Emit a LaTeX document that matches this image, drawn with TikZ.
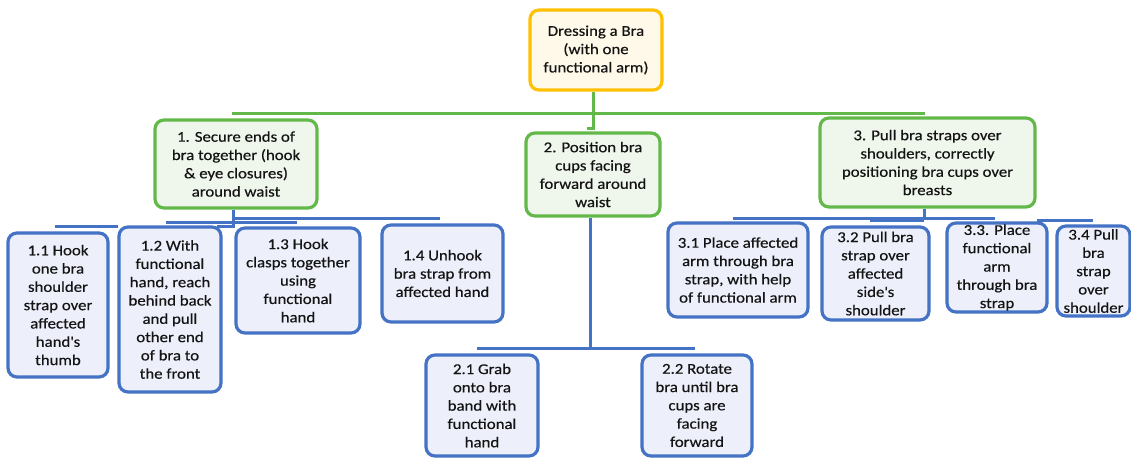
\documentclass[tikz,border=0pt]{standalone}
\usepackage{fontspec}
\setmainfont{Carlito}[FakeStretch=1.12, FakeBold=0.4]
\definecolor{rootorange}{RGB}{255,192,0}
\definecolor{rootfill}{RGB}{255,249,234}
\definecolor{stepgreen}{RGB}{98,184,72}
\definecolor{stepfill}{RGB}{239,246,236}
\definecolor{subblue}{RGB}{68,114,196}
\definecolor{subfill}{RGB}{237,240,250}
\definecolor{txt}{RGB}{20,20,20}
\tikzset{
    box/.style={draw, rounded corners=9pt, line width=3.2pt, inner sep=0pt,
        align=center, text=txt, font=\fontsize{15}{18.3}\selectfont},
    rootbox/.style={box, draw=rootorange, fill=rootfill},
    stepbox/.style={box, draw=stepgreen, fill=stepfill},
    subbox/.style={box, draw=subblue, fill=subfill},
    greenline/.style={draw=stepgreen, line width=3pt},
    blueline/.style={draw=subblue, line width=3pt}
}

\begin{document}
\begin{tikzpicture}[x=1pt, y=-1pt]
    \useasboundingbox (0,0) rectangle (1131,459);

    \node (root) at (596,50) [rootbox, minimum width=132pt, minimum height=80pt]
        {Dressing a Bra\\(with one\\functional arm)};

    \node (n1) at (236,164) [stepbox, minimum width=162pt, minimum height=88pt]
        {1. Secure ends of\\bra together (hook\\\& eye closures)\\around waist};
    \node (n2) at (593,174.5) [stepbox, minimum width=134pt, minimum height=83pt]
        {2. Position bra\\cups facing\\forward around\\waist};
    \node (n3) at (927.5,162.5) [stepbox, minimum width=215pt, minimum height=89pt]
        {3. Pull bra straps over\\shoulders, correctly\\positioning bra cups over\\breasts};

    \node (n11) at (58,305) [subbox, minimum width=100pt, minimum height=144pt]
        {1.1 Hook\\one bra\\shoulder\\strap over\\affected\\hand\textquotesingle s\\thumb};
    \node (n12) at (170,309.5) [subbox, minimum width=102pt, minimum height=165pt]
        {1.2 With\\functional\\hand, reach\\behind back\\and pull\\other end\\of bra to\\the front};
    \node (n13) at (298,280.5) [subbox, minimum width=124pt, minimum height=105pt]
        {1.3 Hook\\clasps together\\using\\functional\\hand};
    \node (n14) at (442.5,273.5) [subbox, minimum width=121pt, minimum height=97pt]
        {1.4 Unhook\\bra strap from\\affected hand};

    \node (n21) at (482,405.5) [subbox, minimum width=112pt, minimum height=101pt]
        {2.1 Grab\\onto bra\\band with\\functional\\hand};
    \node (n22) at (697,405.5) [subbox, minimum width=110pt, minimum height=101pt]
        {2.2 Rotate\\bra until bra\\cups are\\facing\\forward};

    \node (n31) at (738,270) [subbox, minimum width=140pt, minimum height=94pt]
        {3.1 Place affected\\arm through bra\\strap, with help\\of functional arm};
    \node (n32) at (875.5,273.5) [subbox, minimum width=107pt, minimum height=93pt]
        {3.2 Pull bra\\strap over\\affected\\side\textquotesingle s\\shoulder};
    \node (n33) at (997,267.5) [subbox, minimum width=100pt, minimum height=89pt]
        {3.3. Place\\functional\\arm\\through bra\\strap};
    \node (n34) at (1093.5,271) [subbox, minimum width=73pt, minimum height=90pt]
        {3.4 Pull\\bra\\strap\\over\\shoulder};

    % top level bus
    \coordinate (gl) at (232,113);
    \coordinate (gr) at (925,113);
    \coordinate (rv) at (593,128);
    \draw[greenline] (gl) -- (gr);
    \draw[greenline] (root.south -| rv) -- (rv) -- ++(-6,0);

    % bus under step 1
    \coordinate (b1v) at (233,226);
    \coordinate (b1a) at (233,218);
    \coordinate (b1b) at (440,218);
    \coordinate (b1c) at (166,222);
    \coordinate (b1d) at (297,222);
    \coordinate (b1e) at (55,226);
    \coordinate (b1f) at (118,226);
    \draw[blueline] (n1.south -| b1v) -- (b1v) -- ++(-16,0);
    \draw[blueline] (b1a) -- (b1b);
    \draw[blueline] (b1c) -- (b1d);
    \draw[blueline] (b1e) -- (b1f);

    % bus under step 2
    \coordinate (b2v) at (590,348);
    \coordinate (b2l) at (477,348);
    \coordinate (b2r) at (695,348);
    \draw[blueline] (b2l) -- (b2r);
    \draw[blueline] (n2.south -| b2v) -- (b2v);

    % bus under step 3
    \coordinate (b3v) at (924,220);
    \coordinate (b3a) at (733,218);
    \coordinate (b3b) at (995,218);
    \coordinate (b3c) at (870,220);
    \coordinate (b3d) at (1037,220);
    \coordinate (b3e) at (1093,220);
    \draw[blueline] (n3.south -| b3v) -- (b3v);
    \draw[blueline] (b3a) -- (b3b);
    \draw[blueline] (b3c) -- (b3v);
    \draw[blueline] (b3d) -- (b3e);
\end{tikzpicture}
\end{document}
